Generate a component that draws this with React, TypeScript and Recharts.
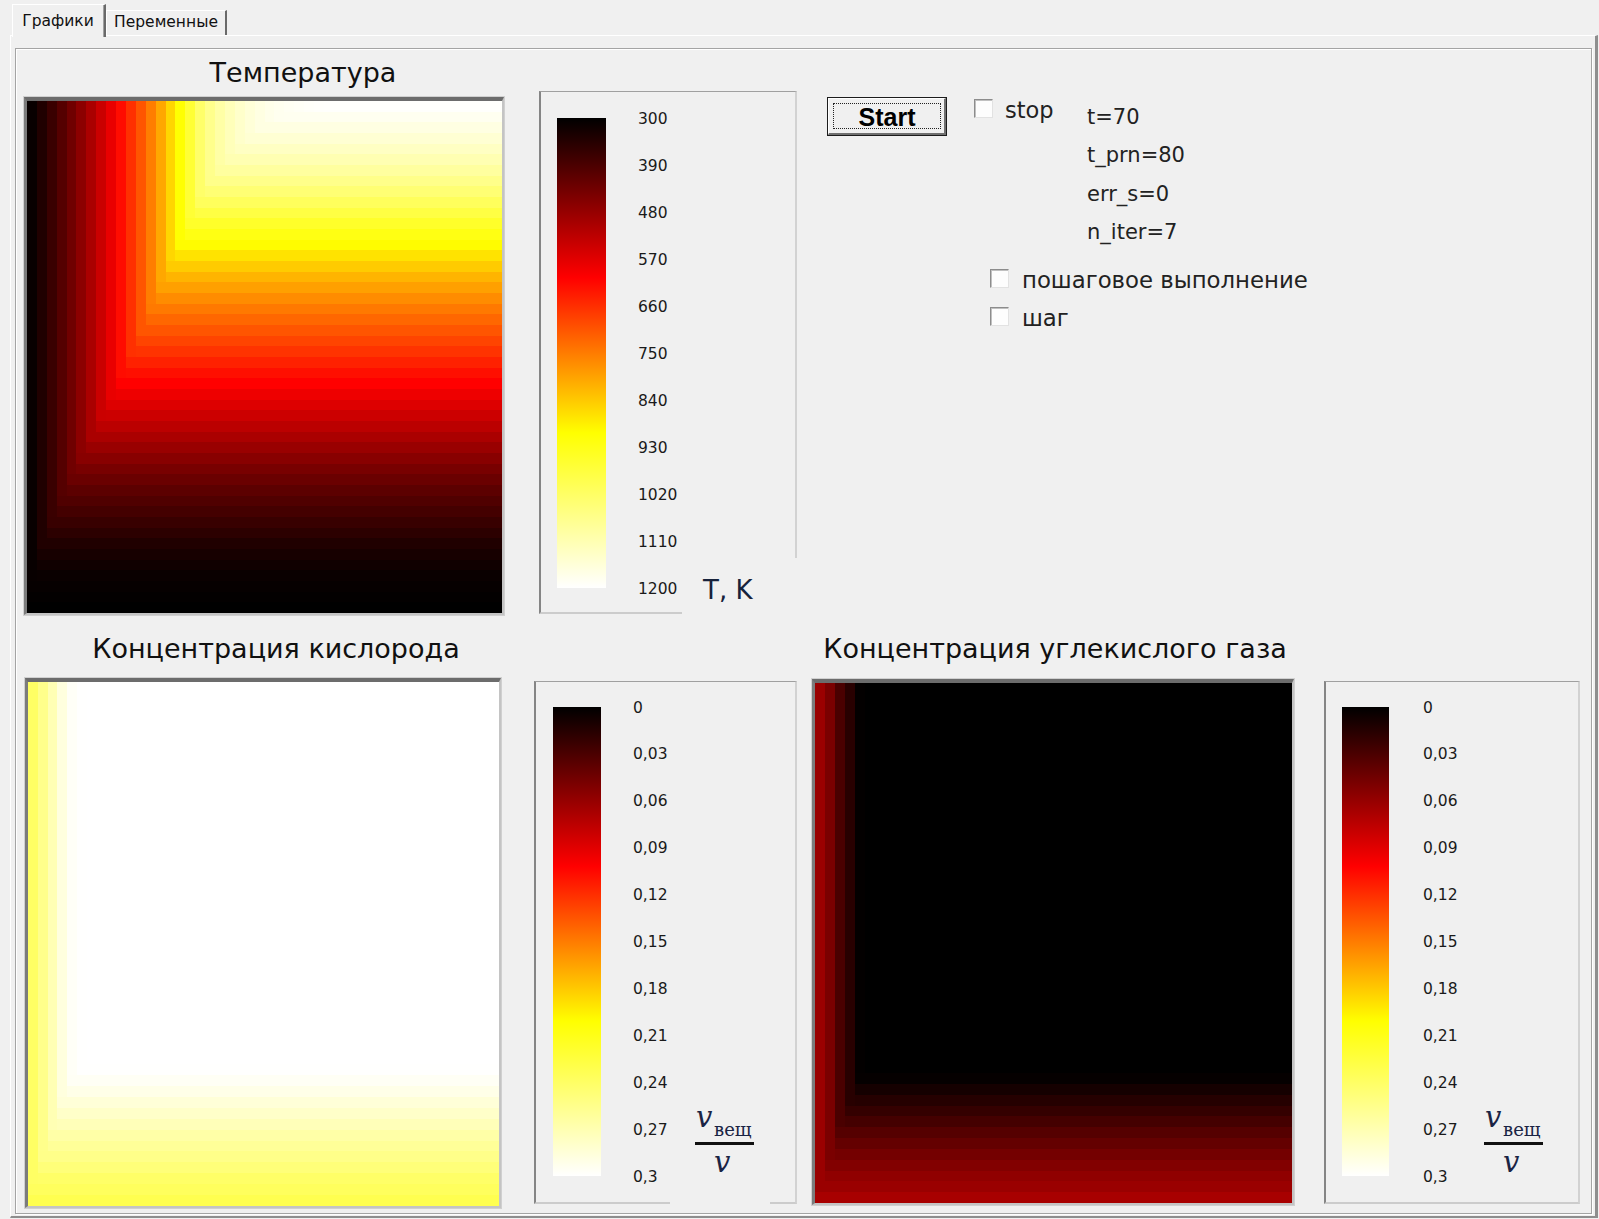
import React from 'react'
import { ScatterChart, Scatter, XAxis, YAxis, BarChart, Bar } from 'recharts'

// Each field is 48 x 48 cells. Values read off the screenshot along the
// top row (left -> right) and the right-hand column (top -> bottom).
const tempTopRow = [
  310, 338, 370, 402, 434, 468, 504, 542, 580, 620, 662, 705, 752, 800, 855, 905,
  965, 1025, 1066, 1096, 1120, 1140, 1155, 1166, 1175, 1181, 1186, 1190, 1193, 1195, 1196, 1197,
  1198, 1198, 1199, 1199, 1200, 1200, 1200, 1200, 1200, 1200, 1200, 1200, 1200, 1200, 1200, 1200,
]
const tempRightCol = [
  1197, 1182, 1166, 1149, 1130, 1110, 1088, 1064, 1038, 1010, 981, 952, 925, 900, 870, 842,
  816, 792, 769, 747, 726, 705, 685, 665, 644, 624, 606, 586, 565, 545, 524, 504,
  484, 463, 444, 427, 410, 396, 382, 367, 353, 338, 328, 319, 312, 307, 303, 300,
]
const o2TopRow = [
  0.240, 0.255, 0.271, 0.287, 0.297, 0.2995, 0.3, 0.3, 0.3, 0.3, 0.3, 0.3, 0.3, 0.3, 0.3, 0.3,
  0.3, 0.3, 0.3, 0.3, 0.3, 0.3, 0.3, 0.3, 0.3, 0.3, 0.3, 0.3, 0.3, 0.3, 0.3, 0.3,
  0.3, 0.3, 0.3, 0.3, 0.3, 0.3, 0.3, 0.3, 0.3, 0.3, 0.3, 0.3, 0.3, 0.3, 0.3, 0.3,
]
const o2RightCol = [
  0.3, 0.3, 0.3, 0.3, 0.3, 0.3, 0.3, 0.3, 0.3, 0.3, 0.3, 0.3, 0.3, 0.3, 0.3, 0.3,
  0.3, 0.3, 0.3, 0.3, 0.3, 0.3, 0.3, 0.3, 0.3, 0.3, 0.3, 0.3, 0.3, 0.3, 0.3, 0.3,
  0.3, 0.3, 0.3, 0.2995, 0.296, 0.291, 0.285, 0.279, 0.273, 0.266, 0.260, 0.254, 0.248, 0.241, 0.237, 0.232,
]
const co2TopRow = [
  0.0616, 0.0488, 0.0296, 0.016, 0.001, 0, 0, 0, 0, 0, 0, 0, 0, 0, 0, 0,
  0, 0, 0, 0, 0, 0, 0, 0, 0, 0, 0, 0, 0, 0, 0, 0,
  0, 0, 0, 0, 0, 0, 0, 0, 0, 0, 0, 0, 0, 0, 0, 0,
]
const co2RightCol = [
  0, 0, 0, 0, 0, 0, 0, 0, 0, 0, 0, 0, 0, 0, 0, 0,
  0, 0, 0, 0, 0, 0, 0, 0, 0, 0, 0, 0, 0, 0, 0, 0,
  0, 0, 0, 0, 0.002, 0.0084, 0.0148, 0.0208, 0.0272, 0.034, 0.040, 0.0464, 0.052, 0.0576, 0.0616, 0.0672,
]

const tempTicks = [300, 390, 480, 570, 660, 750, 840, 930, 1020, 1110, 1200]
const fracTicks = [0, 0.03, 0.06, 0.09, 0.12, 0.15, 0.18, 0.21, 0.24, 0.27, 0.3]
const statusLines = ['t=70', 't_prn=80', 'err_s=0', 'n_iter=7']

const BG = '#f0f0f0'
const SANS = '"DejaVu Sans", sans-serif'

// black -> red -> yellow -> white, same stops as the colour bars
const hotStops: [number, [number, number, number]][] = [
  [0, [0, 0, 0]],
  [0.34, [255, 0, 0]],
  [0.67, [255, 255, 0]],
  [1, [255, 255, 255]],
]

const hotColor = (f: number) => {
  const t = Math.max(0, Math.min(1, f))
  for (let k = 1; k < hotStops.length; k++) {
    const [p1, c1] = hotStops[k]
    const [p0, c0] = hotStops[k - 1]
    if (t <= p1) {
      const r = (t - p0) / (p1 - p0)
      const ch = c0.map((c, n) => Math.round(c + (c1[n] - c) * r))
      return `rgb(${ch[0]},${ch[1]},${ch[2]})`
    }
  }
  return '#ffffff'
}

interface Cell {
  x: number
  y: number
  v: number
}

// the plotted fields are bounded by their edge rows: interior cell = min/max of the two profiles
const buildField = (topRow: number[], rightCol: number[], mode: 'min' | 'max'): Cell[] => {
  const cells: Cell[] = []
  rightCol.forEach((rowVal, j) => {
    topRow.forEach((colVal, i) => {
      cells.push({
        x: i + 0.5,
        y: j + 0.5,
        v: mode === 'min' ? Math.min(colVal, rowVal) : Math.max(colVal, rowVal),
      })
    })
  })
  return cells
}

const tempField = buildField(tempTopRow, tempRightCol, 'min')
const o2Field = buildField(o2TopRow, o2RightCol, 'min')
const co2Field = buildField(co2TopRow, co2RightCol, 'max')

const fmtFrac = (v: number) => String(Number(v.toFixed(2))).replace('.', ',')

interface HeatmapProps {
  data: Cell[]
  left: number
  top: number
  width: number
  height: number
  domain: [number, number]
}

function Heatmap({ data, left, top, width, height, domain }: HeatmapProps) {
  const cols = tempTopRow.length
  const rows = tempRightCol.length
  const cw = width / cols
  const ch = height / rows
  return (
    <div
      style={{
        position: 'absolute',
        left: left - 3,
        top: top - 4,
        width: width + 5,
        height: height + 6,
        boxSizing: 'border-box',
        borderStyle: 'solid',
        borderWidth: '4px 2px 2px 3px',
        borderColor: '#6c6c6c #c4c4c4 #c4c4c4 #7c7c7c',
        boxShadow: '0 0 0 1px #d0d0d0',
        background: '#000',
      }}
    >
      <ScatterChart width={width} height={height} margin={{ top: 0, right: 0, bottom: 0, left: 0 }}>
        <XAxis type="number" dataKey="x" domain={[0, cols]} allowDataOverflow hide />
        <YAxis type="number" dataKey="y" domain={[0, rows]} allowDataOverflow reversed hide width={0} />
        <Scatter
          data={data}
          isAnimationActive={false}
          shape={(p: any) => (
            <rect
              x={p.cx - cw / 2}
              y={p.cy - ch / 2}
              width={cw + 1}
              height={ch + 1}
              shapeRendering="crispEdges"
              fill={hotColor((p.payload.v - domain[0]) / (domain[1] - domain[0]))}
            />
          )}
        />
      </ScatterChart>
    </div>
  )
}

interface ColorBarProps {
  id: string
  left: number
  top: number
  barWidth: number
  plotHeight: number
  domain: [number, number]
  ticks: number[]
  labelGap: number
  fmt?: (v: number) => string
}

function ColorBar({ id, left, top, barWidth, plotHeight, domain, ticks, labelGap, fmt }: ColorBarProps) {
  const pad = 12
  const axisW = 110
  return (
    <div style={{ position: 'absolute', left, top: top - pad }}>
      <BarChart
        width={barWidth + axisW}
        height={plotHeight + pad * 2}
        data={[{ name: 'scale', span: domain }]}
        margin={{ top: pad, bottom: pad, left: 0, right: 0 }}
        barCategoryGap={0}
      >
        <defs>
          <linearGradient id={id} x1="0" y1="0" x2="0" y2="1">
            {hotStops.map(([at, c]) => (
              <stop key={at} offset={at} stopColor={`rgb(${c[0]},${c[1]},${c[2]})`} />
            ))}
          </linearGradient>
        </defs>
        <XAxis dataKey="name" hide />
        <YAxis
          orientation="right"
          type="number"
          domain={domain}
          allowDataOverflow
          reversed
          ticks={ticks}
          interval={0}
          width={axisW}
          tickSize={0}
          tickMargin={labelGap}
          axisLine={false}
          tickLine={false}
          tickFormatter={fmt}
          tick={{ fill: '#1a1a1a', fontSize: 15.5, fontFamily: SANS }}
        />
        <Bar dataKey="span" fill={`url(#${id})`} isAnimationActive={false} />
      </BarChart>
    </div>
  )
}

const Txt = ({
  x,
  base,
  size,
  children,
  center,
  style,
}: {
  x: number
  base: number
  size: number
  children: React.ReactNode
  center?: boolean
  style?: React.CSSProperties
}) => (
  <div
    style={{
      position: 'absolute',
      left: x,
      top: base - 0.846 * size,
      fontSize: size,
      lineHeight: `${size}px`,
      whiteSpace: 'nowrap',
      transform: center ? 'translateX(-50%)' : undefined,
      color: '#111',
      ...style,
    }}
  >
    {children}
  </div>
)

const Panel = ({ left, top, width, height }: { left: number; top: number; width: number; height: number }) => (
  <div
    style={{
      position: 'absolute',
      left,
      top,
      width,
      height,
      boxSizing: 'border-box',
      borderStyle: 'solid',
      borderWidth: '1px 2px 2px 2px',
      borderColor: '#a0a0a0 #d2d2d2 #cccccc #858585',
    }}
  />
)

const CheckBox = ({ left, top }: { left: number; top: number }) => (
  <div
    style={{
      position: 'absolute',
      left,
      top,
      width: 19,
      height: 19,
      boxSizing: 'border-box',
      background: '#fdfdfd',
      borderStyle: 'solid',
      borderWidth: 1,
      borderColor: '#8c8c8c #e2e2e2 #e2e2e2 #8c8c8c',
      boxShadow: 'inset 1px 1px #c0c0c0',
    }}
  />
)

const FracLabel = ({ left }: { left: number }) => {
  const ink = '#1a2444'
  const serif = '"DejaVu Serif", serif'
  return (
    <>
      <Txt x={left + 1} base={1128} size={29} style={{ fontFamily: serif, fontStyle: 'italic', color: ink }}>
        v
      </Txt>
      <Txt x={left + 19} base={1136} size={18} style={{ fontFamily: serif, color: ink }}>
        вещ
      </Txt>
      <div style={{ position: 'absolute', left, top: 1142, width: 59, height: 3, background: '#111' }} />
      <Txt x={left + 19} base={1173} size={29} style={{ fontFamily: serif, fontStyle: 'italic', color: ink }}>
        v
      </Txt>
    </>
  )
}

export default function App() {
  return (
    <div
      style={{
        position: 'absolute',
        left: 0,
        top: 0,
        width: 1599,
        height: 1219,
        background: BG,
        overflow: 'hidden',
        fontFamily: SANS,
      }}
    >
      {/* tab page */}
      <div
        style={{
          position: 'absolute',
          left: 10,
          top: 35,
          width: 1588,
          height: 1183,
          boxSizing: 'border-box',
          borderStyle: 'solid',
          borderWidth: '1px 3px 2px 1px',
          borderColor: '#ffffff #8e8e8e #8e8e8e #ffffff',
        }}
      />
      {/* inner panel */}
      <div
        style={{
          position: 'absolute',
          left: 15,
          top: 48,
          width: 1577,
          height: 1166,
          boxSizing: 'border-box',
          border: '1px solid #a4a4a4',
          boxShadow: 'inset 1px 1px #ffffff, 1px 1px #ffffff',
        }}
      />
      {/* tabs */}
      <div
        style={{
          position: 'absolute',
          left: 106,
          top: 10,
          width: 121,
          height: 25,
          boxSizing: 'border-box',
          borderStyle: 'solid',
          borderWidth: '1px 2px 0 1px',
          borderColor: '#ffffff #6a6a6a #ffffff #ffffff',
          background: BG,
        }}
      />
      <div
        style={{
          position: 'absolute',
          left: 12,
          top: 4,
          width: 94,
          height: 33,
          boxSizing: 'border-box',
          borderStyle: 'solid',
          borderWidth: '1px 2px 0 1px',
          borderColor: '#ffffff #6a6a6a #ffffff #ffffff',
          boxShadow: 'inset -1px 0 #a0a0a0',
          background: BG,
        }}
      />
      <Txt x={58} base={27} size={15.5} center>
        Графики
      </Txt>
      <Txt x={166} base={28} size={15.5} center>
        Переменные
      </Txt>

      {/* temperature */}
      <Txt x={303} base={82} size={27} center>
        Температура
      </Txt>
      <Heatmap data={tempField} left={27} top={101} width={475} height={512} domain={[300, 1200]} />
      <Panel left={539} top={91} width={258} height={523} />
      <div style={{ position: 'absolute', left: 682, top: 558, width: 130, height: 60, background: BG }} />
      <ColorBar
        id="tempGrad"
        left={557}
        top={118}
        barWidth={49}
        plotHeight={470}
        domain={[300, 1200]}
        ticks={tempTicks}
        labelGap={32}
      />
      <Txt x={703} base={599} size={26} style={{ color: '#17223b' }}>
        T, K
      </Txt>

      {/* controls */}
      <div
        style={{
          position: 'absolute',
          left: 827,
          top: 97,
          width: 120,
          height: 39,
          boxSizing: 'border-box',
          border: '1px solid #1c1c1c',
          background: BG,
        }}
      >
        <div
          style={{
            position: 'absolute',
            inset: 0,
            borderStyle: 'solid',
            borderWidth: '1px 2px 2px 1px',
            borderColor: '#ffffff #707070 #707070 #ffffff',
          }}
        />
        <div
          style={{
            position: 'absolute',
            left: 5,
            top: 5,
            right: 5,
            bottom: 6,
            border: '1px dotted #222',
          }}
        />
      </div>
      <Txt
        x={887}
        base={126}
        size={25}
        center
        style={{ fontFamily: '"Liberation Sans", Arial, sans-serif', fontWeight: 700, color: '#000' }}
      >
        Start
      </Txt>
      <CheckBox left={974} top={99} />
      <Txt x={1005} base={118} size={22.5} style={{ color: '#222' }}>
        stop
      </Txt>
      {statusLines.map((s, k) => (
        <Txt key={s} x={1087} base={125 + k * 38.2} size={21} style={{ color: '#222' }}>
          {s}
        </Txt>
      ))}
      <CheckBox left={990} top={269} />
      <Txt x={1022} base={288} size={22.8} style={{ color: '#222' }}>
        пошаговое выполнение
      </Txt>
      <CheckBox left={990} top={307} />
      <Txt x={1022} base={326} size={22.8} style={{ color: '#222' }}>
        шаг
      </Txt>

      {/* oxygen */}
      <Txt x={276} base={658} size={27} center>
        Концентрация кислорода
      </Txt>
      <Heatmap data={o2Field} left={28} top={682} width={471} height={524} domain={[0, 0.3]} />
      <Panel left={534} top={681} width={263} height={523} />
      <div style={{ position: 'absolute', left: 670, top: 1195, width: 100, height: 14, background: BG }} />
      <ColorBar
        id="o2Grad"
        left={553}
        top={707}
        barWidth={48}
        plotHeight={469}
        domain={[0, 0.3]}
        ticks={fracTicks}
        labelGap={32}
        fmt={fmtFrac}
      />
      <FracLabel left={695} />

      {/* carbon dioxide */}
      <Txt x={1055} base={658} size={27} center>
        Концентрация углекислого газа
      </Txt>
      <Heatmap data={co2Field} left={815} top={683} width={477} height={520} domain={[0, 0.3]} />
      <Panel left={1324} top={681} width={256} height={523} />
      <ColorBar
        id="co2Grad"
        left={1342}
        top={707}
        barWidth={47}
        plotHeight={469}
        domain={[0, 0.3]}
        ticks={fracTicks}
        labelGap={34}
        fmt={fmtFrac}
      />
      <FracLabel left={1484} />
    </div>
  )
}
